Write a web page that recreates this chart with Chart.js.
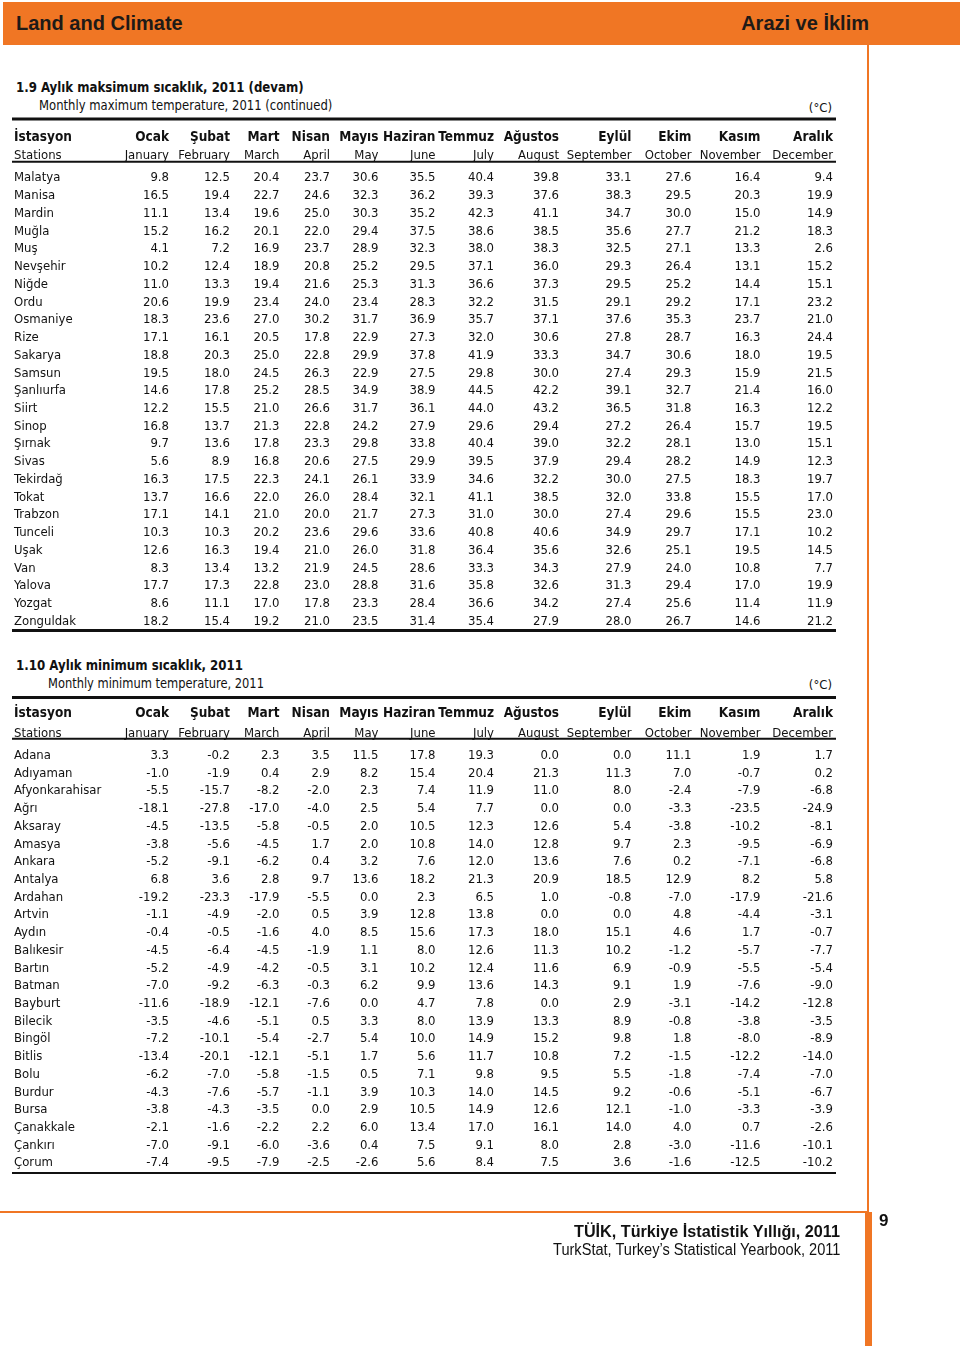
<!DOCTYPE html>
<html lang="tr">
<head>
<meta charset="utf-8">
<title>Land and Climate – Arazi ve İklim</title>
<script src="https://cdn.jsdelivr.net/npm/chart.js@4.4.1/dist/chart.umd.min.js"></script>
<style>
html,body{margin:0;padding:0;background:#fff;}
body{width:960px;height:1346px;position:relative;overflow:hidden;font-family:"DejaVu Sans Condensed","DejaVu Sans",sans-serif;color:#111;}
.abs{position:absolute;white-space:nowrap;line-height:1;}
#bar{position:absolute;left:3px;top:2px;width:957px;height:43px;background:#F07624;}
.bartxt{font-family:"Liberation Sans",Arial,sans-serif;font-weight:bold;font-size:20px;color:#1e1a17;}
#vline{position:absolute;left:867px;top:45px;width:2px;height:1301px;background:#F07624;}
#vthick{position:absolute;left:865px;top:1212px;width:7px;height:134px;background:#F07624;}
#hline{position:absolute;left:0;top:1211px;width:869px;height:2px;background:#F07624;}
.ttl{font-weight:bold;font-size:14px;transform-origin:left center;}
.sub{font-size:13.5px;transform-origin:left center;}
.unit{font-size:13px;}
.foot{font-family:"Liberation Sans",Arial,sans-serif;transform-origin:right center;}
canvas{position:absolute;left:0;}
</style>
</head>
<body>
<div id="bar"></div>
<div class="abs bartxt" style="left:16px;top:13.1px;">Land and Climate</div>
<div class="abs bartxt" style="right:91px;top:13.1px;">Arazi ve İklim</div>
<div id="vline"></div>
<div id="hline"></div>
<div id="vthick"></div>

<div id="t1" class="abs ttl" style="left:16px;top:79.5px;">1.9 Aylık maksimum sıcaklık, 2011 (devam)</div>
<div id="s1" class="abs sub" style="left:39px;top:98.5px;">Monthly maximum temperature, 2011 (continued)</div>
<div class="abs unit" style="right:128px;top:100.5px;">(°C)</div>

<div id="t2" class="abs ttl" style="left:16px;top:657.8px;">1.10 Aylık minimum sıcaklık, 2011</div>
<div id="s2" class="abs sub" style="left:48px;top:676.8px;">Monthly minimum temperature, 2011</div>
<div class="abs unit" style="right:128px;top:678px;">(°C)</div>

<canvas id="tMax" width="960" height="640" style="top:0;"></canvas>
<canvas id="tMin" width="960" height="706" style="top:640px;"></canvas>

<div id="f1" class="abs foot" style="right:120px;top:1224.2px;font-weight:bold;font-size:16px;">TÜİK, Türkiye İstatistik Yıllığı, 2011</div>
<div id="f2" class="abs foot" style="right:120px;top:1242.2px;font-size:16px;">TurkStat, Turkey’s Statistical Yearbook, 2011</div>
<div class="abs" style="left:879px;top:1212px;font-family:'Liberation Sans',Arial,sans-serif;font-weight:bold;font-size:17px;">9</div>

<script>
// ---------- DATA ----------
const monthsTr = ['Ocak','Şubat','Mart','Nisan','Mayıs','Haziran','Temmuz','Ağustos','Eylül','Ekim','Kasım','Aralık'];
const monthsEn = ['January','February','March','April','May','June','July','August','September','October','November','December'];

const stationsMax = ['Malatya','Manisa','Mardin','Muğla','Muş','Nevşehir','Niğde','Ordu','Osmaniye','Rize','Sakarya','Samsun','Şanlıurfa','Siirt','Sinop','Şırnak','Sivas','Tekirdağ','Tokat','Trabzon','Tunceli','Uşak','Van','Yalova','Yozgat','Zonguldak'];

const maxJan = [9.8,16.5,11.1,15.2,4.1,10.2,11.0,20.6,18.3,17.1,18.8,19.5,14.6,12.2,16.8,9.7,5.6,16.3,13.7,17.1,10.3,12.6,8.3,17.7,8.6,18.2];
const maxFeb = [12.5,19.4,13.4,16.2,7.2,12.4,13.3,19.9,23.6,16.1,20.3,18.0,17.8,15.5,13.7,13.6,8.9,17.5,16.6,14.1,10.3,16.3,13.4,17.3,11.1,15.4];
const maxMar = [20.4,22.7,19.6,20.1,16.9,18.9,19.4,23.4,27.0,20.5,25.0,24.5,25.2,21.0,21.3,17.8,16.8,22.3,22.0,21.0,20.2,19.4,13.2,22.8,17.0,19.2];
const maxApr = [23.7,24.6,25.0,22.0,23.7,20.8,21.6,24.0,30.2,17.8,22.8,26.3,28.5,26.6,22.8,23.3,20.6,24.1,26.0,20.0,23.6,21.0,21.9,23.0,17.8,21.0];
const maxMay = [30.6,32.3,30.3,29.4,28.9,25.2,25.3,23.4,31.7,22.9,29.9,22.9,34.9,31.7,24.2,29.8,27.5,26.1,28.4,21.7,29.6,26.0,24.5,28.8,23.3,23.5];
const maxJun = [35.5,36.2,35.2,37.5,32.3,29.5,31.3,28.3,36.9,27.3,37.8,27.5,38.9,36.1,27.9,33.8,29.9,33.9,32.1,27.3,33.6,31.8,28.6,31.6,28.4,31.4];
const maxJul = [40.4,39.3,42.3,38.6,38.0,37.1,36.6,32.2,35.7,32.0,41.9,29.8,44.5,44.0,29.6,40.4,39.5,34.6,41.1,31.0,40.8,36.4,33.3,35.8,36.6,35.4];
const maxAug = [39.8,37.6,41.1,38.5,38.3,36.0,37.3,31.5,37.1,30.6,33.3,30.0,42.2,43.2,29.4,39.0,37.9,32.2,38.5,30.0,40.6,35.6,34.3,32.6,34.2,27.9];
const maxSep = [33.1,38.3,34.7,35.6,32.5,29.3,29.5,29.1,37.6,27.8,34.7,27.4,39.1,36.5,27.2,32.2,29.4,30.0,32.0,27.4,34.9,32.6,27.9,31.3,27.4,28.0];
const maxOct = [27.6,29.5,30.0,27.7,27.1,26.4,25.2,29.2,35.3,28.7,30.6,29.3,32.7,31.8,26.4,28.1,28.2,27.5,33.8,29.6,29.7,25.1,24.0,29.4,25.6,26.7];
const maxNov = [16.4,20.3,15.0,21.2,13.3,13.1,14.4,17.1,23.7,16.3,18.0,15.9,21.4,16.3,15.7,13.0,14.9,18.3,15.5,15.5,17.1,19.5,10.8,17.0,11.4,14.6];
const maxDec = [9.4,19.9,14.9,18.3,2.6,15.2,15.1,23.2,21.0,24.4,19.5,21.5,16.0,12.2,19.5,15.1,12.3,19.7,17.0,23.0,10.2,14.5,7.7,19.9,11.9,21.2];

const stationsMin = ['Adana','Adıyaman','Afyonkarahisar','Ağrı','Aksaray','Amasya','Ankara','Antalya','Ardahan','Artvin','Aydın','Balıkesir','Bartın','Batman','Bayburt','Bilecik','Bingöl','Bitlis','Bolu','Burdur','Bursa','Çanakkale','Çankırı','Çorum'];

const minJan = [3.3,-1.0,-5.5,-18.1,-4.5,-3.8,-5.2,6.8,-19.2,-1.1,-0.4,-4.5,-5.2,-7.0,-11.6,-3.5,-7.2,-13.4,-6.2,-4.3,-3.8,-2.1,-7.0,-7.4];
const minFeb = [-0.2,-1.9,-15.7,-27.8,-13.5,-5.6,-9.1,3.6,-23.3,-4.9,-0.5,-6.4,-4.9,-9.2,-18.9,-4.6,-10.1,-20.1,-7.0,-7.6,-4.3,-1.6,-9.1,-9.5];
const minMar = [2.3,0.4,-8.2,-17.0,-5.8,-4.5,-6.2,2.8,-17.9,-2.0,-1.6,-4.5,-4.2,-6.3,-12.1,-5.1,-5.4,-12.1,-5.8,-5.7,-3.5,-2.2,-6.0,-7.9];
const minApr = [3.5,2.9,-2.0,-4.0,-0.5,1.7,0.4,9.7,-5.5,0.5,4.0,-1.9,-0.5,-0.3,-7.6,0.5,-2.7,-5.1,-1.5,-1.1,0.0,2.2,-3.6,-2.5];
const minMay = [11.5,8.2,2.3,2.5,2.0,2.0,3.2,13.6,0.0,3.9,8.5,1.1,3.1,6.2,0.0,3.3,5.4,1.7,0.5,3.9,2.9,6.0,0.4,-2.6];
const minJun = [17.8,15.4,7.4,5.4,10.5,10.8,7.6,18.2,2.3,12.8,15.6,8.0,10.2,9.9,4.7,8.0,10.0,5.6,7.1,10.3,10.5,13.4,7.5,5.6];
const minJul = [19.3,20.4,11.9,7.7,12.3,14.0,12.0,21.3,6.5,13.8,17.3,12.6,12.4,13.6,7.8,13.9,14.9,11.7,9.8,14.0,14.9,17.0,9.1,8.4];
const minAug = [0.0,21.3,11.0,0.0,12.6,12.8,13.6,20.9,1.0,0.0,18.0,11.3,11.6,14.3,0.0,13.3,15.2,10.8,9.5,14.5,12.6,16.1,8.0,7.5];
const minSep = [0.0,11.3,8.0,0.0,5.4,9.7,7.6,18.5,-0.8,0.0,15.1,10.2,6.9,9.1,2.9,8.9,9.8,7.2,5.5,9.2,12.1,14.0,2.8,3.6];
const minOct = [11.1,7.0,-2.4,-3.3,-3.8,2.3,0.2,12.9,-7.0,4.8,4.6,-1.2,-0.9,1.9,-3.1,-0.8,1.8,-1.5,-1.8,-0.6,-1.0,4.0,-3.0,-1.6];
const minNov = [1.9,-0.7,-7.9,-23.5,-10.2,-9.5,-7.1,8.2,-17.9,-4.4,1.7,-5.7,-5.5,-7.6,-14.2,-3.8,-8.0,-12.2,-7.4,-5.1,-3.3,0.7,-11.6,-12.5];
const minDec = [1.7,0.2,-6.8,-24.9,-8.1,-6.9,-6.8,5.8,-21.6,-3.1,-0.7,-7.7,-5.4,-9.0,-12.8,-3.5,-8.9,-14.0,-7.0,-6.7,-3.9,-2.6,-10.1,-10.2];

// ---------- LAYOUT (positions / styles, separate from data) ----------
const L = {
  colRight: [169,230,279.5,330,378.5,435.5,494,559,631.5,691.5,760.5,833],
  stationX: 14,
  ruleX0: 12, ruleX1: 836,
  baseShift: 4.8,
  ink: '#111',
  fontReg: '13px "DejaVu Sans Condensed", "DejaVu Sans", sans-serif',
  fontBold: 'bold 13.5px "DejaVu Sans Condensed", "DejaVu Sans", sans-serif'
};

function tablePlugin(cfg) {
  return {
    id: 'tableText',
    afterDraw(chart) {
      const ctx = chart.ctx, xs = chart.scales.x, ys = chart.scales.y, off = cfg.offsetY;
      ctx.save();
      ctx.fillStyle = L.ink; ctx.strokeStyle = L.ink;
      cfg.rules.forEach(r => {
        ctx.lineWidth = r.w;
        ctx.beginPath();
        ctx.moveTo(xs.getPixelForValue(L.ruleX0), r.y - off);
        ctx.lineTo(xs.getPixelForValue(L.ruleX1), r.y - off);
        ctx.stroke();
      });
      ctx.textBaseline = 'alphabetic';
      ctx.font = L.fontBold;
      ctx.textAlign = 'left';
      ctx.fillText('İstasyon', xs.getPixelForValue(L.stationX), cfg.head1 - off);
      ctx.textAlign = 'right';
      monthsTr.forEach((m, j) => ctx.fillText(m, xs.getPixelForValue(L.colRight[j]), cfg.head1 - off));
      ctx.font = L.fontReg;
      ctx.textAlign = 'left';
      ctx.fillText('Stations', xs.getPixelForValue(L.stationX), cfg.head2 - off);
      ctx.textAlign = 'right';
      monthsEn.forEach((m, j) => ctx.fillText(m, xs.getPixelForValue(L.colRight[j]), cfg.head2 - off));
      ctx.textAlign = 'left';
      ys.getLabels().forEach((s, i) => ctx.fillText(s, xs.getPixelForValue(L.stationX), ys.getPixelForValue(i) + L.baseShift));
      ctx.textAlign = 'right';
      chart.data.datasets.forEach((ds, j) => {
        const meta = chart.getDatasetMeta(j);
        meta.data.forEach((pt, i) => {
          ctx.fillText(ds.data[i].v.toFixed(1), pt.x, pt.y + L.baseShift);
        });
      });
      ctx.restore();
    }
  };
}

function makeTable(id, stations, series, padding, cfg) {
  const datasets = series.map((vals, j) => ({
    label: monthsTr[j],
    data: stations.map((s, i) => ({ x: L.colRight[j], y: s, v: vals[i] })),
    pointRadius: 0, pointHoverRadius: 0, showLine: false
  }));
  return new Chart(document.getElementById(id), {
    type: 'scatter',
    data: { labels: stations, datasets },
    options: {
      responsive: false, animation: false, events: [],
      layout: { padding },
      plugins: { legend: { display: false }, tooltip: { enabled: false } },
      scales: {
        x: { type: 'linear', min: 0, max: 960, display: false },
        y: { type: 'category', labels: stations, offset: true, display: false }
      }
    },
    plugins: [tablePlugin(cfg)]
  });
}

makeTable('tMax', stationsMax,
  [maxJan,maxFeb,maxMar,maxApr,maxMay,maxJun,maxJul,maxAug,maxSep,maxOct,maxNov,maxDec],
  { top: 167.8, bottom: 11.2, left: 0, right: 0 },
  { offsetY: 0, head1: 140.5, head2: 159.3,
    rules: [{ y: 119, w: 3 }, { y: 161.8, w: 2 }, { y: 630.5, w: 3 }] });

makeTable('tMin', stationsMin,
  [minJan,minFeb,minMar,minApr,minMay,minJun,minJul,minAug,minSep,minOct,minNov,minDec],
  { top: 105.4, bottom: 175.5, left: 0, right: 0 },
  { offsetY: 640, head1: 717.3, head2: 736.7,
    rules: [{ y: 697.6, w: 3 }, { y: 738.7, w: 2 }, { y: 1173, w: 2 }] });

// fit titles and footer lines to the widths measured on the reference
[['t1', 288], ['s1', 293], ['t2', 227], ['s2', 216], ['f1', 266], ['f2', 287]].forEach(([id, w]) => {
  const el = document.getElementById(id);
  el.style.transform = 'scaleX(' + (w / el.offsetWidth) + ')';
});
</script>
</body>
</html>
